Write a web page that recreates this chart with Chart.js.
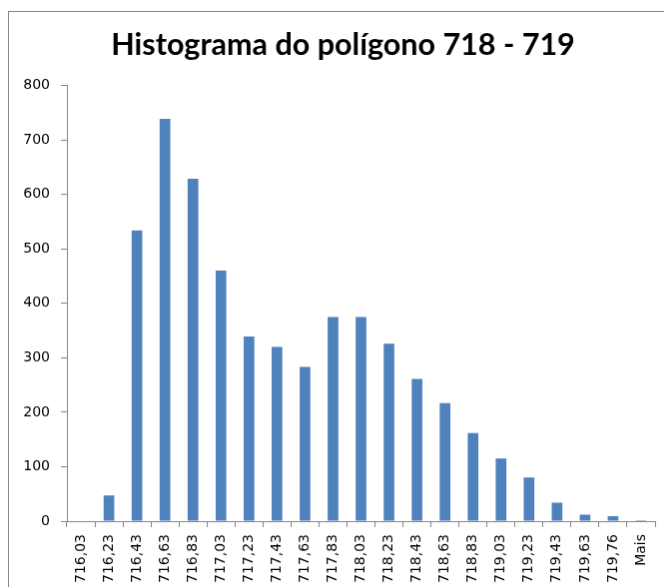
<!DOCTYPE html>
<html>
<head>
<meta charset="utf-8">
<script src="https://cdn.jsdelivr.net/npm/chart.js"></script>
<style>
  html, body { margin: 0; padding: 0; background: #fff; overflow: hidden; }
  #histograma {
    position: absolute;
    left: 8px;
    top: 11px;
    border-left: 1px solid #868686;
    border-top: 1px solid #868686;
  }
</style>
</head>
<body>
<canvas id="histograma" width="669" height="590"></canvas>
<script>
// Classes (limite superior de cada bloco)
const classes = [
  "716,03", "716,23", "716,43", "716,63", "716,83", "717,03", "717,23",
  "717,43", "717,63", "717,83", "718,03", "718,23", "718,43", "718,63",
  "718,83", "719,03", "719,23", "719,43", "719,63", "719,76", "Mais"
];

// Frequência por classe
const frequencia = [
  0, 47, 534, 739, 629, 460, 339,
  320, 283, 375, 375, 326, 261, 217,
  162, 115, 80, 34, 12, 9, 2
];

// Eixo vertical
const yMax = 800;
const yPasso = 100;

const corEixo = "#868686";
const fonteEixo = { family: "'DejaVu Sans', sans-serif", size: 14 };

new Chart(document.getElementById("histograma"), {
  type: "bar",
  data: {
    labels: classes,
    datasets: [{
      label: "Frequência",
      data: frequencia,
      backgroundColor: "#4F81BD",
      borderWidth: 0,
      barPercentage: 0.38,
      categoryPercentage: 1
    }]
  },
  options: {
    responsive: false,
    animation: false,
    devicePixelRatio: 1,
    layout: { padding: 0 },
    plugins: {
      legend: { display: false },
      tooltip: { enabled: false },
      title: {
        display: true,
        text: "Histograma do polígono 718 - 719",
        color: "#000",
        font: { family: "Lato, 'Open Sans', sans-serif", size: 30.5, weight: "bold" },
        padding: { top: 15, bottom: 22 }
      }
    },
    scales: {
      x: {
        offset: true,
        grid: {
          offset: true,
          drawOnChartArea: false,
          drawTicks: true,
          tickLength: 6,
          color: corEixo
        },
        border: { color: corEixo },
        ticks: {
          color: "#000",
          font: fonteEixo,
          minRotation: 90,
          maxRotation: 90,
          autoSkip: false,
          padding: 7
        },
        afterFit: (scale) => { scale.height = 80; }
      },
      y: {
        min: 0,
        max: yMax,
        grid: {
          drawOnChartArea: false,
          tickLength: 6,
          color: corEixo
        },
        border: { color: corEixo },
        ticks: {
          stepSize: yPasso,
          color: "#000",
          font: fonteEixo,
          padding: 11
        },
        afterFit: (scale) => { scale.width = 58; }
      },
      // eixo vazio à direita: só reserva a margem, o título fica centrado na moldura
      margem: {
        type: "linear",
        position: "right",
        grid: { display: false },
        border: { display: false },
        ticks: { display: false },
        afterFit: (scale) => { scale.width = 22; }
      }
    }
  }
});
</script>
</body>
</html>
